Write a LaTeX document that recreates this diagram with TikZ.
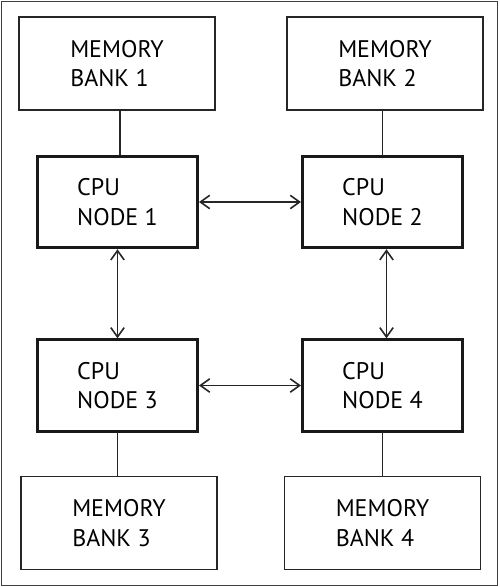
\documentclass[tikz,border=0pt]{standalone}
\usepackage{fontspec}
\setmainfont{PT Sans}
\usetikzlibrary{arrows.meta}
\begin{document}
\begin{tikzpicture}[x=0.75pt, y=-0.75pt, line cap=round, line join=miter, font=\fontsize{18}{22}\selectfont, >={Straight Barb[length=7pt, width=10pt, line width=1.2pt]}]
			\tikzset{membox/.style={draw=black!85, line width=1.2pt, minimum width=147pt, minimum height=69.75pt, inner sep=0pt, align=left},
				cpubox/.style={draw=black!90, line width=2.3pt, minimum width=120pt, minimum height=68.5pt, inner sep=0pt, align=left},
				link/.style={draw=black!85, line width=1.1pt}}
			\useasboundingbox (0,0) rectangle (500,587);
			\draw[black!75, line width=1.3pt] (1.5,1.5) rectangle (497.5,585.5);
			% memory banks
			\node[membox] (mem1) at (117,63.5) {MEMORY\\BANK 1};
			\node[membox] (mem2) at (385,63.5) {MEMORY\\BANK 2};
			\node[membox] (mem3) at (119,523) {MEMORY\\BANK 3};
			\node[membox] (mem4) at (382.5,523) {MEMORY\\BANK 4};
			% cpu nodes
			\node[cpubox] (cpu1) at (117.5,202) {CPU\\NODE 1};
			\node[cpubox] (cpu2) at (382.5,202) {CPU\\NODE 2};
			\node[cpubox] (cpu3) at (117.5,385.5) {CPU\\NODE 3};
			\node[cpubox] (cpu4) at (382.5,385.5) {CPU\\NODE 4};
			\draw[link] ([xshift=2pt]cpu1.north) -- ([xshift=2pt]cpu1.north |- mem1.south);
			\draw[link] (cpu2.north) -- (cpu2.north |- mem2.south);
			\draw[link] (cpu3.south) -- (cpu3.south |- mem3.north);
			\draw[link] (cpu4.south) -- (cpu4.south |- mem4.north);
			\draw[link, <->] (cpu1.east) -- (cpu2.west);
			\draw[link, <->] (cpu3.east) -- (cpu4.west);
			\draw[link, <->] (cpu1.south) -- (cpu3.north);
			\draw[link, <->] ([xshift=3pt]cpu2.south) -- ([xshift=3pt]cpu4.north);
		\end{tikzpicture}
\end{document}
